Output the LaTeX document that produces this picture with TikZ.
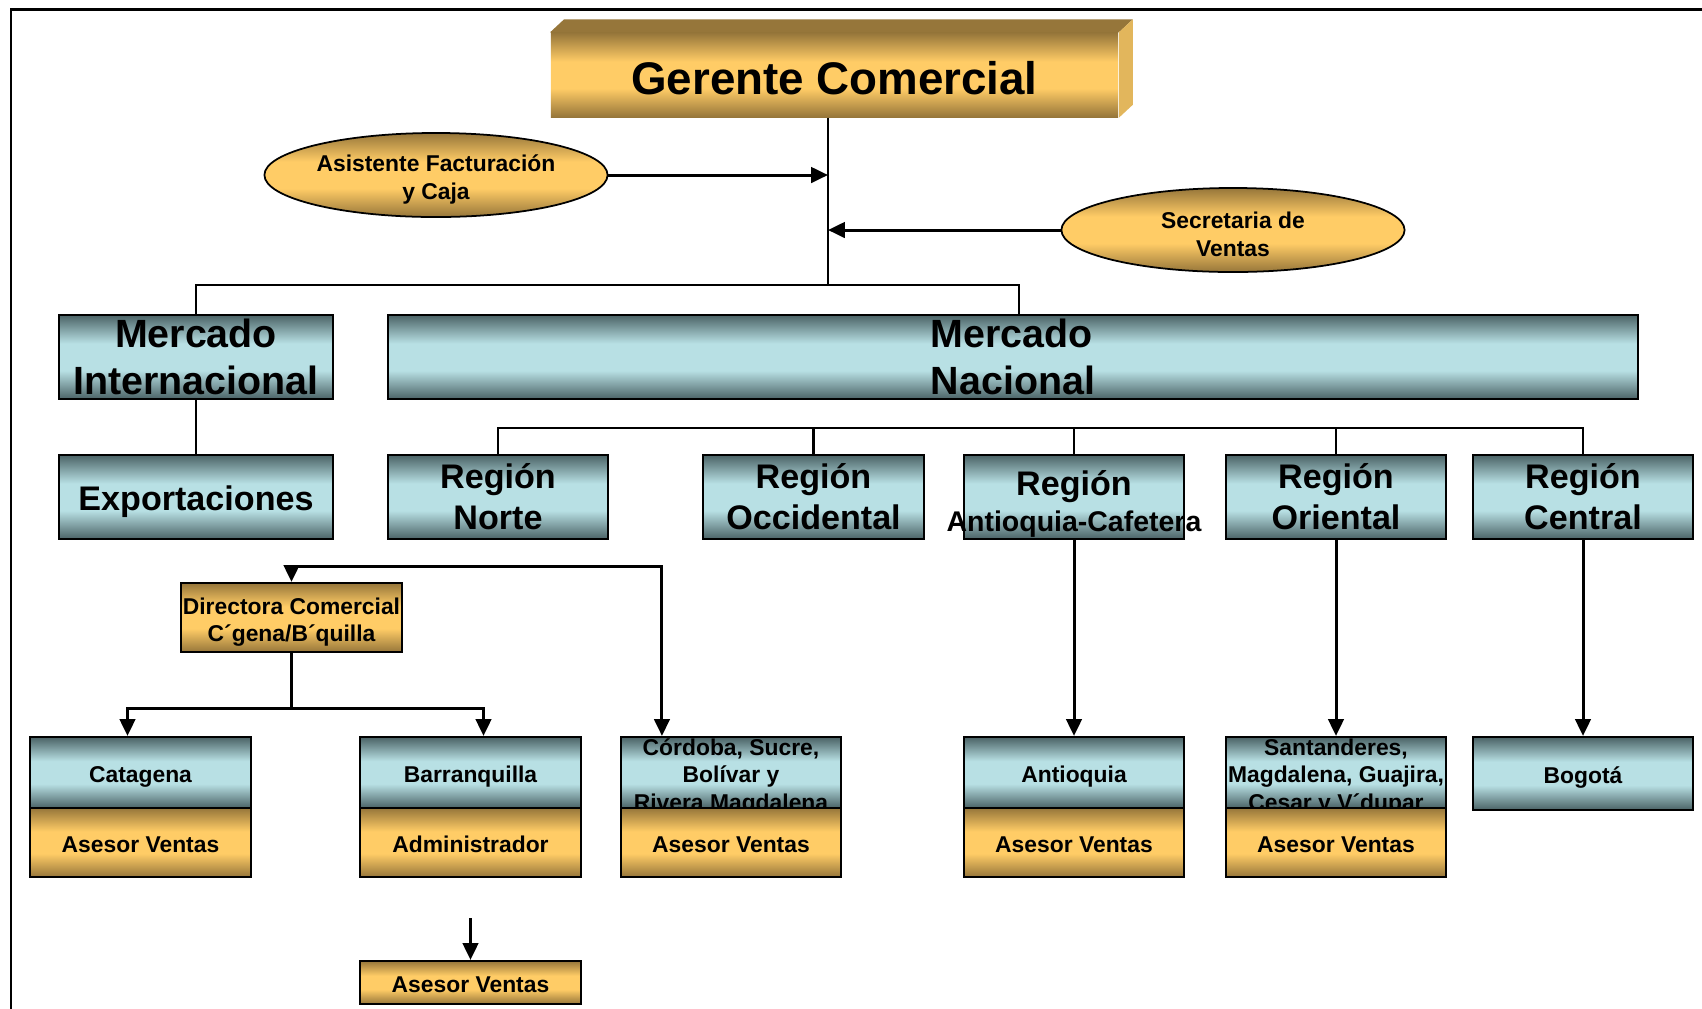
\documentclass[tikz,border=0pt]{standalone}
\usepackage{fontspec}
\setmainfont{Liberation Sans}
\usetikzlibrary{positioning,arrows.meta,calc,shapes.geometric}
\definecolor{GoldDark}{RGB}{150,118,58}
\definecolor{GoldLight}{RGB}{255,204,102}
\definecolor{GoldSide}{RGB}{226,182,92}
\definecolor{SlateDark}{RGB}{74,98,101}
\definecolor{SlateLight}{RGB}{184,224,228}
\pgfdeclareverticalshading{goldband}{100bp}{color(0bp)=(GoldDark); color(25bp)=(GoldDark);
  color(42bp)=(GoldLight); color(58bp)=(GoldLight); color(75bp)=(GoldDark); color(100bp)=(GoldDark)}
\pgfdeclareverticalshading{slateband}{100bp}{color(0bp)=(SlateDark); color(25bp)=(SlateDark);
  color(42bp)=(SlateLight); color(58bp)=(SlateLight); color(75bp)=(SlateDark); color(100bp)=(SlateDark)}
\tikzset{
  link/.style={line width=0.6pt,draw=black},
  flow/.style={-{Triangle[length=4.8pt,width=4.4pt]},line width=0.85pt,draw=black},
  twoway/.style={{Triangle[length=4.8pt,width=4.4pt]}-{Triangle[length=4.8pt,width=4.4pt]},
    line width=0.85pt,draw=black},
  slatebox/.style={draw=black,line width=0.6pt,shade,shading=slateband,inner sep=0pt,
    minimum width=2.2cm,align=center},
  goldbox/.style={draw=black,line width=0.6pt,shade,shading=goldband,inner sep=0pt,
    minimum width=2.2cm,align=center},
  goldoval/.style={ellipse,draw=black,line width=0.5pt,shade,shading=goldband,inner sep=0pt,
    minimum width=3.43cm,minimum height=0.84cm},
  bigtext/.style={font=\bfseries\fontsize{11.2}{13.5}\selectfont},
  midtext/.style={font=\bfseries\fontsize{9.7}{11.6}\selectfont},
  smalltext/.style={font=\bfseries\fontsize{6.5}{7.7}\selectfont,align=center,inner sep=0pt},
  oneline/.style={text height=#1,text depth=0pt},
  oneline/.default=5.6pt,
  caption/.style={smalltext,yshift=-0.045cm}
}

\begin{document}
\begin{tikzpicture}[x=0.01cm,y=-0.01cm]
  \useasboundingbox (0,0) rectangle (1702,1008);
  \draw[line width=0.85pt] (11,1010) -- (11,9) -- (1702,9);

  % top of the chart
  \node[shade,shading=goldband,inner sep=0pt,minimum width=5.67cm,minimum height=0.84cm,
    font=\bfseries\fontsize{13}{15}\selectfont,oneline=11.2pt] (gerente) at (834.5,75)
    {Gerente Comercial};
  \fill[GoldDark] (gerente.north west) -- ++(14,-13) -- ($(gerente.north east)+(14,-13)$)
    -- (gerente.north east) -- cycle;
  \fill[GoldSide] (gerente.north east) -- ++(14,-13) -- ($(gerente.south east)+(14,-13)$)
    -- (gerente.south east) -- cycle;

  \node[goldoval] (asist) at (436,175) {};
  \node[caption,font=\bfseries\fontsize{6.5}{8}\selectfont] (asist-t) at (asist)
    {Asistente Facturación\\y Caja};
  \node[goldoval] (secre) at (1233,230) {};
  \node[caption,font=\bfseries\fontsize{6.5}{8}\selectfont] (secre-t) at (secre)
    {Secretaria de\\Ventas};

  \coordinate (hub) at (828,285);
  \draw[link] (gerente.south -| hub) -- (hub);
  \draw[flow] (asist.east) -- (asist.east -| hub);
  \draw[flow] (secre.west) -- (secre.west -| hub);

  % markets
  \node[slatebox,bigtext,minimum width=2.74cm,minimum height=0.845cm] (intl) at (196,357)
    {Mercado\\Internacional};
  \node[slatebox,bigtext,align=left,minimum width=12.5cm,minimum height=0.845cm] (nac)
    at (1013,357) {Mercado\\Nacional};
  \draw[link] (intl.north) |- (hub) -| ([xshift=0.06cm]nac.north);

  \node[slatebox,midtext,oneline=7.9pt,minimum width=2.74cm,minimum height=0.845cm] (expo)
    at (196,497) {Exportaciones};
  \draw[link] (intl) -- (expo);

  % regions
  \node[slatebox,midtext,minimum height=0.845cm] (norte) at (498,497) {Región\\Norte};
  \node[slatebox,midtext,minimum height=0.845cm] (occid) at (813.5,497) {Región\\Occidental};
  \node[slatebox,minimum height=0.845cm] (antreg) at (1074,497) {};
  \node[midtext,align=center,inner sep=0pt,yshift=-0.07cm] (antreg-t) at (antreg)
    {Región\\[-1.6pt]\makebox[0pt]{\fontsize{8.1}{9.7}\selectfont Antioquia-Cafetera}};
  \node[slatebox,midtext,minimum height=0.845cm] (orient) at (1336,497) {Región\\Oriental};
  \node[slatebox,midtext,minimum height=0.845cm] (centro) at (1583,497) {Región\\Central};

  \coordinate (rbar) at (0,428);
  \draw[link] (norte.north) |- (centro.north |- rbar) -- (centro.north);
  \foreach \r in {occid,antreg,orient}
    \draw[link] (\r.north) -- (\r.north |- rbar);

  % Norte branch
  \node[goldbox,minimum width=2.21cm,minimum height=0.69cm] (dir) at (291.5,617.5) {};
  \node[caption] (dir-t) at (dir) {Directora Comercial\\C´gena/B´quilla};

  \node[slatebox,smalltext,oneline,minimum height=0.71cm] (catag) at (140.5,772.5) {Catagena};
  \node[goldbox,smalltext,oneline,minimum height=0.69cm] (catagAV) at (140.5,842.5) {Asesor Ventas};
  \node[slatebox,smalltext,oneline,minimum height=0.71cm] (barran) at (470.5,772.5) {Barranquilla};
  \node[goldbox,smalltext,oneline,minimum height=0.69cm] (barranAd) at (470.5,842.5) {Administrador};
  \node[slatebox,minimum height=0.71cm] (cordoba) at (731,772.5) {};
  \node[caption] (cordoba-t) at (cordoba) {Córdoba, Sucre,\\Bolívar y\\Rivera Magdalena};
  \node[goldbox,smalltext,oneline,minimum height=0.69cm] (cordobaAV) at (731,842.5) {Asesor Ventas};

  \coordinate (dsplit) at (291.5,708);
  \draw[link] (dir.south) -- (dsplit);
  \draw[flow] (dsplit) -| ([xshift=-0.13cm]catag.north);
  \draw[flow] (dsplit) -| ([xshift=0.13cm]barran.north);
  \draw[twoway] (dir.north) |- ([xshift=-0.69cm,yshift=1.69cm]cordoba.north)
    -- ([xshift=-0.69cm]cordoba.north);

  \node[goldbox,smalltext,oneline,minimum height=0.43cm] (asesor) at (470.5,982.5) {Asesor Ventas};
  \coordinate (bq) at (470.5,918);
  \draw[flow] (bq) -- (asesor.north);

  % other regions
  \node[slatebox,smalltext,oneline,minimum height=0.71cm] (antioq) at (1074,772.5) {Antioquia};
  \node[goldbox,smalltext,oneline,minimum height=0.69cm] (antioqAV) at (1074,842.5) {Asesor Ventas};
  \node[slatebox,minimum height=0.71cm] (santan) at (1336,772.5) {};
  \node[caption] (santan-t) at (santan) {Santanderes,\\Magdalena, Guajira,\\Cesar y V´dupar};
  \node[goldbox,smalltext,oneline,minimum height=0.69cm] (santanAV) at (1336,842.5) {Asesor Ventas};
  \node[slatebox,smalltext,oneline,minimum height=0.73cm] (bogota) at (1583,773.5) {Bogotá};

  \draw[flow] (antreg) -- (antioq);
  \draw[flow] (orient) -- (santan);
  \draw[flow] (centro) -- (bogota);
\end{tikzpicture}
\end{document}
